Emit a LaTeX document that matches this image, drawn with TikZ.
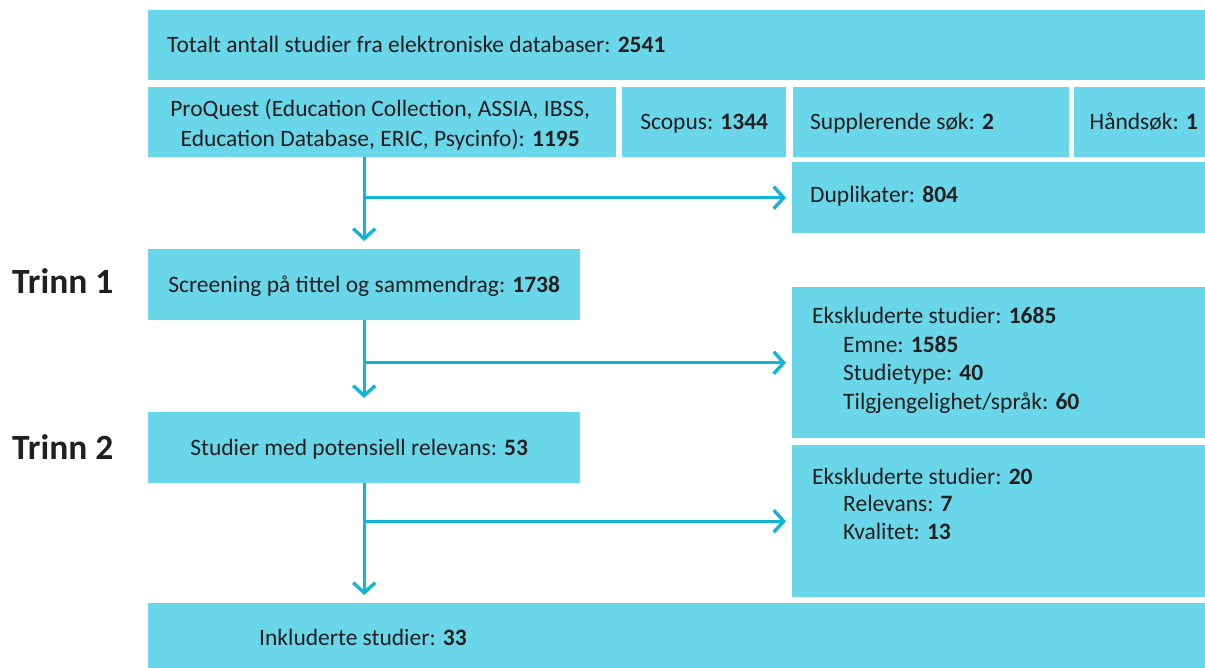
\documentclass[tikz,border=0pt]{standalone}
\usepackage{fontspec}
\setmainfont{Carlito}
\usetikzlibrary{arrows.meta,calc}
\definecolor{boxfill}{HTML}{6AD6E9}
\definecolor{linecol}{HTML}{12B5D9}
\definecolor{ink}{HTML}{231F20}
\begin{document}
\begin{tikzpicture}[x=1pt,y=-1pt,
  box/.style={fill=boxfill,draw=none,inner sep=0pt,anchor=north west},
  txt/.style={text=ink,font=\fontsize{23.5}{30}\selectfont,inner sep=0pt},
  steplabel/.style={text=ink,font=\fontsize{35.5}{40}\selectfont\bfseries,inner sep=0pt,anchor=base west},
  flow/.style={draw=linecol,line width=3.4pt,-{Straight Barb[length=10pt,width=22pt,line width=3.4pt]}},
  down/.style={flow,shorten >=8pt},
  side/.style={flow,shorten >=6pt}
]
\useasboundingbox (0,0) rectangle (1205,668);

% boxes
\node[box,minimum width=1057pt,minimum height=70pt] (total) at (148,10) {};
\node[box,minimum width=468pt,minimum height=70pt] (pq) at (148,87) {};
\node[box,minimum width=164pt,minimum height=70pt] (scopus) at (622,87) {};
\node[box,minimum width=276pt,minimum height=70pt] (supp) at (793,87) {};
\node[box,minimum width=131pt,minimum height=70pt] (hand) at (1074,87) {};
\node[box,minimum width=413pt,minimum height=71pt] (dup) at (792,162) {};
\node[box,minimum width=432pt,minimum height=71pt] (screen) at (148,249) {};
\node[box,minimum width=413pt,minimum height=151pt] (exc1) at (792,287) {};
\node[box,minimum width=432pt,minimum height=71pt] (pot) at (148,412) {};
\node[box,minimum width=413pt,minimum height=152pt] (exc2) at (792,445) {};
\node[box,minimum width=1057pt,minimum height=65pt] (incl) at (148,603) {};

% box texts
\node[txt,anchor=base west] (totalt) at (167,53) {Totalt antall studier fra elektroniske databaser: \textbf{2541}};
\node[txt,align=center] (pqt) at ($(pq.center)+(-2,3)$) {ProQuest (Education Collection, ASSIA, IBSS,\\Education Database, ERIC, Psycinfo): \textbf{1195}};
\node[txt,anchor=base] (scopust) at ($(scopus.center)+(0,7.5)$) {Scopus: \textbf{1344}};
\node[txt,anchor=base west] (suppt) at (810,129.5) {Supplerende søk: \textbf{2}};
\node[txt,anchor=base] (handt) at ($(hand.center)+(4,7.5)$) {Håndsøk: \textbf{1}};
\node[txt,anchor=base west] (dupt) at (810,203) {Duplikater: \textbf{804}};
\node[txt,anchor=base] (screent) at ($(screen.center)+(0,7.5)$) {Screening på tittel og sammendrag: \textbf{1738}};
\node[txt,anchor=base west] (exa) at (812,324) {Ekskluderte studier: \textbf{1685}};
\node[txt,anchor=base west] (exb) at (843,352.7) {Emne: \textbf{1585}};
\node[txt,anchor=base west] (exc) at (843,381) {Studietype: \textbf{40}};
\node[txt,anchor=base west] (exd) at (843,409.7) {Tilgjengelighet/språk: \textbf{60}};
\node[txt,anchor=base] (pott) at ($(pot.center)+(-5,7.5)$) {Studier med potensiell relevans: \textbf{53}};
\node[txt,anchor=base west] (exe) at (812,484.3) {Ekskluderte studier: \textbf{20}};
\node[txt,anchor=base west] (exf) at (843,511) {Relevans: \textbf{7}};
\node[txt,anchor=base west] (exg) at (843,539.3) {Kvalitet: \textbf{13}};
\node[txt,anchor=base west] (inclt) at (259,645) {Inkluderte studier: \textbf{33}};

% step labels
\node[steplabel] (trinn1) at (12,294) {Trinn 1};
\node[steplabel] (trinn2) at (12,459) {Trinn 2};

% connectors
\draw[down] (pq.south -| screen.north) -- (screen.north);
\draw[side] (screen.north |- dup.west) -- (dup.west);
\draw[down,shorten >=14pt] (screen.south) -- (pot.north);
\draw[side] (screen.south |- exc1.west) -- (exc1.west);
\draw[down] (pot.south) -- (pot.south |- incl.north);
\draw[side] (pot.south |- exc2.west) -- (exc2.west);
\end{tikzpicture}
\end{document}
